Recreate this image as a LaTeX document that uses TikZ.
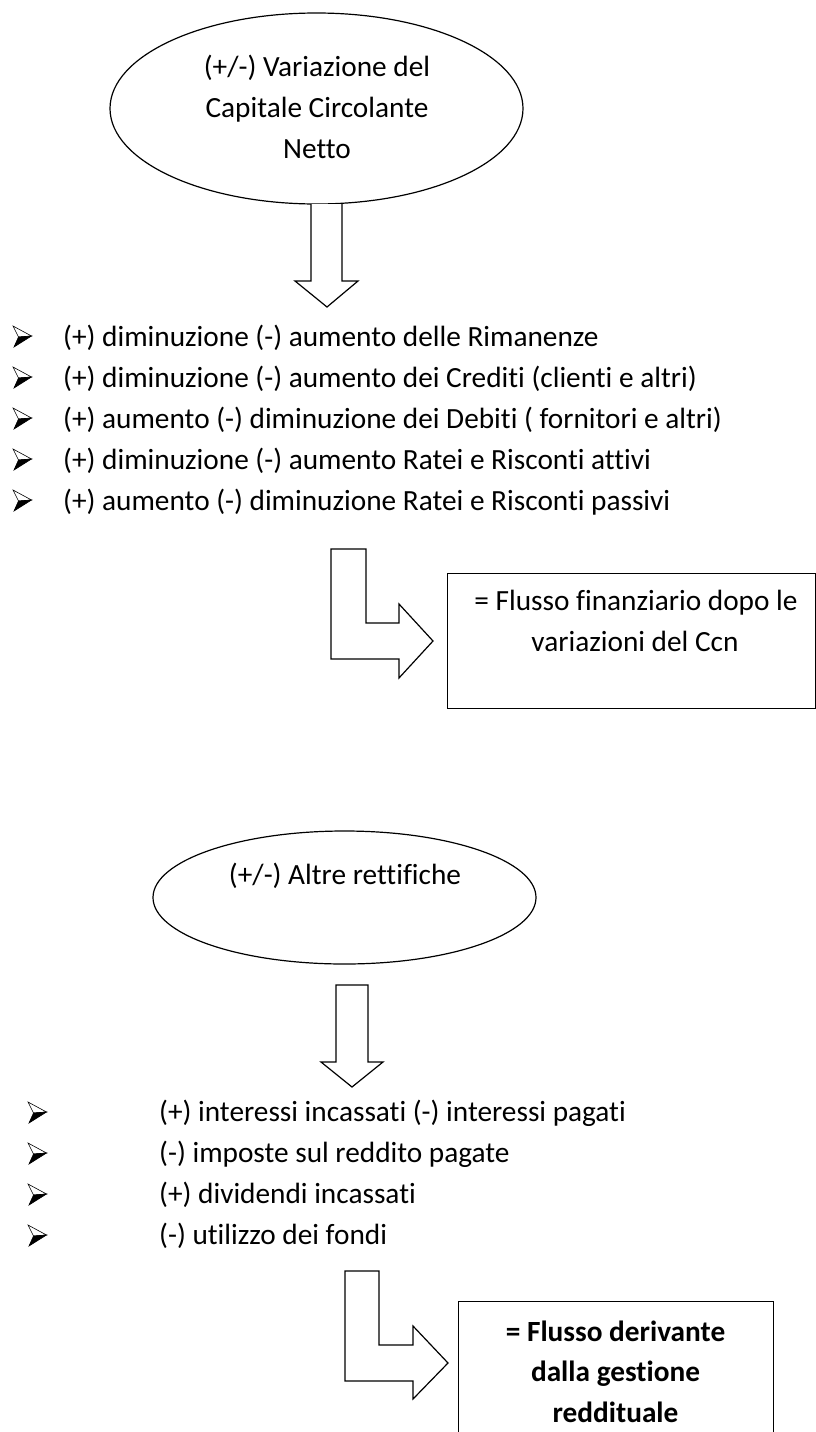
\documentclass[tikz,border=0pt]{standalone}
\usepackage{fontspec}
\setmainfont{Carlito}[Ligatures=NoCommon]
\usetikzlibrary{shapes.geometric}
\begin{document}
\begin{tikzpicture}[x=1pt,y=-1pt,
  txt/.style={font=\fontsize{29.3}{40.7}\selectfont, anchor=base, inner sep=0pt},
  ltxt/.style={txt, anchor=base west},
  btxt/.style={txt, font=\fontsize{29.3}{40.7}\selectfont\bfseries},
  shapeline/.style={draw=black, line width=1.2pt},
  blockarrow/.style={draw=black, line width=1.2pt, line join=miter, fill=white},
  bul/.pic={
    \filldraw[fill=white, draw=black, line width=0.6pt] (0,-10) -- (18.5,0) -- (5.5,1) -- cycle;
    \filldraw[fill=black, draw=black, line width=0.6pt] (5.5,1) -- (18.5,0) -- (1,11) -- cycle;
  }]
\useasboundingbox (0,0) rectangle (816,1432);
\fill[white] (0,0) rectangle (816,1432);

% ---------- first ellipse ----------
\node[ellipse, shapeline, minimum width=413pt, minimum height=191pt, inner sep=0pt] (e1) at (316.5,108.5) {};
\node[txt] (e1a) at (317,76.5) {(+/-) Variazione del};
\node[txt] (e1b) at (317,117.5) {Capitale Circolante};
\node[txt] (e1c) at (317,158.5) {Netto};

% down arrow 1
\coordinate (a1) at (311,204);
\draw[blockarrow] (a1) -- (311,281) -- (295,281) -- (327,307) -- (358,281) -- (342,281) -- (342,204);

% ---------- list 1 ----------
\foreach \yy in {346,387,428,469,510} { \pic at (13,\yy-10) {bul}; }
\node[ltxt] (l1a) at (63,346) {(+) diminuzione (-) aumento delle Rimanenze};
\node[ltxt] (l1b) at (63,387) {(+) diminuzione (-) aumento dei Crediti (clienti e altri)};
\node[ltxt] (l1c) at (63,428) {(+) aumento (-) diminuzione dei Debiti ( fornitori e altri)};
\node[ltxt] (l1d) at (63,469) {(+) diminuzione (-) aumento Ratei e Risconti attivi};
\node[ltxt] (l1e) at (63,510) {(+) aumento (-) diminuzione Ratei e Risconti passivi};

% L arrow 1
\draw[blockarrow] (331,549) -- (366,549) -- (366,623) -- (399,623) -- (399,604) -- (433,641) -- (399,678) -- (399,659) -- (331,659) -- cycle;

% box 1
\node[shapeline, minimum width=368pt, minimum height=135pt, inner sep=0pt, anchor=north west] (b1) at (447,573) {};
\node[txt] (b1a) at (636,610) {= Flusso finanziario dopo le};
\node[txt] (b1b) at (635,651) {variazioni del Ccn};

% ---------- second ellipse ----------
\node[ellipse, shapeline, minimum width=383pt, minimum height=133pt, inner sep=0pt] (e2) at (344.5,897.5) {};
\node[txt] (e2a) at (345,884) {(+/-) Altre rettifiche};

% down arrow 2
\draw[blockarrow] (336,985) -- (368,985) -- (368,1062) -- (383,1062) -- (352,1087) -- (321,1062) -- (336,1062) -- cycle;

% ---------- list 2 ----------
\foreach \yy in {1121,1162,1203,1244} { \pic at (28,\yy-9) {bul}; }
\node[ltxt] (l2a) at (159,1121) {(+) interessi incassati (-) interessi pagati};
\node[ltxt] (l2b) at (159,1162) {(-) imposte sul reddito pagate};
\node[ltxt] (l2c) at (159,1203) {(+) dividendi incassati};
\node[ltxt] (l2d) at (159,1244) {(-) utilizzo dei fondi};

% L arrow 2
\draw[blockarrow] (345,1271) -- (379,1271) -- (379,1345) -- (413,1345) -- (413,1326) -- (448,1363) -- (413,1399) -- (413,1381) -- (345,1381) -- cycle;

% box 2
\node[shapeline, minimum width=315pt, minimum height=160pt, inner sep=0pt, anchor=north west] (b2) at (458,1301) {};
\node[btxt] (b2a) at (615.5,1341) {= Flusso derivante};
\node[btxt] (b2b) at (615.5,1381.5) {dalla gestione};
\node[btxt] (b2c) at (615.5,1422) {reddituale};
\end{tikzpicture}
\end{document}
